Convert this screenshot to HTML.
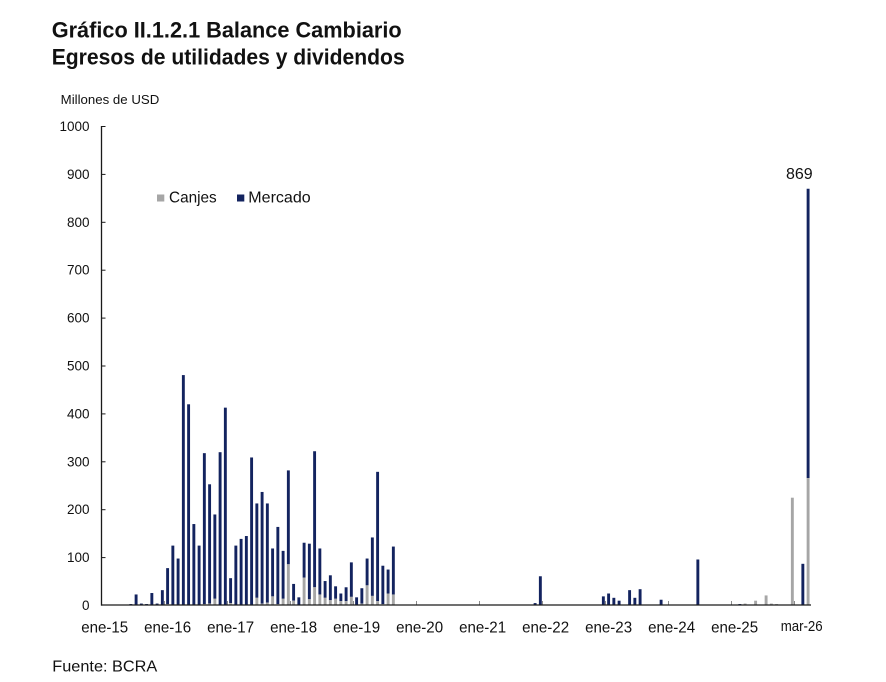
<!DOCTYPE html>
<html>
<head>
<meta charset="utf-8">
<style>
  html,body{margin:0;padding:0;background:#fff;}
  svg{display:block;}
  text{font-family:"Liberation Sans",Arial,sans-serif;fill:#111;}
</style>
</head>
<body>
<svg width="886" height="682" viewBox="0 0 886 682" xmlns="http://www.w3.org/2000/svg">
  <text x="51.7" y="37.3" font-size="22" font-weight="bold" textLength="350" lengthAdjust="spacingAndGlyphs">Gráfico II.1.2.1 Balance Cambiario</text>
  <text x="51.7" y="64.5" font-size="22" font-weight="bold" textLength="353" lengthAdjust="spacingAndGlyphs">Egresos de utilidades y dividendos</text>
  <text x="60.7" y="104" font-size="12.5" textLength="98.6" lengthAdjust="spacingAndGlyphs">Millones de USD</text>

  <rect x="157" y="194.5" width="7.3" height="7" fill="#a6a6a6"/>
  <text x="169" y="202.7" font-size="16" textLength="47.7" lengthAdjust="spacingAndGlyphs">Canjes</text>
  <rect x="237" y="194.5" width="7.3" height="7" fill="#13235f"/>
  <text x="248.3" y="202.7" font-size="16" textLength="62.4" lengthAdjust="spacingAndGlyphs">Mercado</text>

  <g font-size="13.5" text-anchor="end">
    <text x="89.5" y="131">1000</text>
    <text x="89.5" y="178.9">900</text>
    <text x="89.5" y="226.8">800</text>
    <text x="89.5" y="274.7">700</text>
    <text x="89.5" y="322.6">600</text>
    <text x="89.5" y="370.5">500</text>
    <text x="89.5" y="418.4">400</text>
    <text x="89.5" y="466.3">300</text>
    <text x="89.5" y="514.2">200</text>
    <text x="89.5" y="562.1">100</text>
    <text x="89.5" y="610">0</text>
  </g>

  <g transform="translate(-0.1,605) scale(1,-0.479)">
    <g fill="#13235f">
      <rect x="129.5" y="0" width="2.9" height="2"/>
      <rect x="134.75" y="0" width="2.9" height="22"/>
      <rect x="140.0" y="0" width="2.9" height="3"/>
      <rect x="145.25" y="0" width="2.9" height="2"/>
      <rect x="150.5" y="0" width="2.9" height="25"/>
      <rect x="155.75" y="0" width="2.9" height="3"/>
      <rect x="161.0" y="0" width="2.9" height="31"/>
      <rect x="166.25" y="2" width="2.9" height="75"/>
      <rect x="171.5" y="0" width="2.9" height="124"/>
      <rect x="176.75" y="0" width="2.9" height="97"/>
      <rect x="182.0" y="0" width="2.9" height="480"/>
      <rect x="187.25" y="0" width="2.9" height="419"/>
      <rect x="192.5" y="0" width="2.9" height="169"/>
      <rect x="197.75" y="0" width="2.9" height="124"/>
      <rect x="203.0" y="2" width="2.9" height="315"/>
      <rect x="208.25" y="3" width="2.9" height="249"/>
      <rect x="213.5" y="13" width="2.9" height="176"/>
      <rect x="218.75" y="0" width="2.9" height="319"/>
      <rect x="224.0" y="0" width="2.9" height="412"/>
      <rect x="229.25" y="4" width="2.9" height="52"/>
      <rect x="234.5" y="0" width="2.9" height="124"/>
      <rect x="239.75" y="0" width="2.9" height="138"/>
      <rect x="245.0" y="0" width="2.9" height="144"/>
      <rect x="250.25" y="0" width="2.9" height="308"/>
      <rect x="255.5" y="15" width="2.9" height="197"/>
      <rect x="260.75" y="3" width="2.9" height="233"/>
      <rect x="266.0" y="5" width="2.9" height="207"/>
      <rect x="271.25" y="18" width="2.9" height="100"/>
      <rect x="276.5" y="2" width="2.9" height="161"/>
      <rect x="281.75" y="13" width="2.9" height="100"/>
      <rect x="287.0" y="85" width="2.9" height="196"/>
      <rect x="292.25" y="9" width="2.9" height="35"/>
      <rect x="297.5" y="0" width="2.9" height="16"/>
      <rect x="302.75" y="57" width="2.9" height="73"/>
      <rect x="308.0" y="12" width="2.9" height="116"/>
      <rect x="313.25" y="37" width="2.9" height="284"/>
      <rect x="318.5" y="22" width="2.9" height="96"/>
      <rect x="323.75" y="15" width="2.9" height="35"/>
      <rect x="329.0" y="10" width="2.9" height="52"/>
      <rect x="334.25" y="13" width="2.9" height="26"/>
      <rect x="339.5" y="8" width="2.9" height="16"/>
      <rect x="344.75" y="8" width="2.9" height="29"/>
      <rect x="350.0" y="17" width="2.9" height="72"/>
      <rect x="355.25" y="0" width="2.9" height="16"/>
      <rect x="360.5" y="3" width="2.9" height="32"/>
      <rect x="365.75" y="41" width="2.9" height="56"/>
      <rect x="371.0" y="19" width="2.9" height="122"/>
      <rect x="376.25" y="8" width="2.9" height="270"/>
      <rect x="381.5" y="2" width="2.9" height="80"/>
      <rect x="386.75" y="24" width="2.9" height="50"/>
      <rect x="392.0" y="22" width="2.9" height="100"/>
      <rect x="533.75" y="0" width="2.9" height="4"/>
      <rect x="539.0" y="0" width="2.9" height="60"/>
      <rect x="602.0" y="0" width="2.9" height="18"/>
      <rect x="607.25" y="0" width="2.9" height="24"/>
      <rect x="612.5" y="0" width="2.9" height="15"/>
      <rect x="617.75" y="0" width="2.9" height="9"/>
      <rect x="628.25" y="0" width="2.9" height="31"/>
      <rect x="633.5" y="0" width="2.9" height="15"/>
      <rect x="638.75" y="0" width="2.9" height="33"/>
      <rect x="659.75" y="0" width="2.9" height="11"/>
      <rect x="696.5" y="0" width="2.9" height="95"/>
      <rect x="738.5" y="0" width="2.9" height="2"/>
      <rect x="801.5" y="0" width="2.9" height="86"/>
      <rect x="806.75" y="265" width="2.9" height="604"/>
    </g>
    <g fill="#a6a6a6">
      <rect x="166.25" y="0" width="2.9" height="2"/>
      <rect x="203.0" y="0" width="2.9" height="2"/>
      <rect x="208.25" y="0" width="2.9" height="3"/>
      <rect x="213.5" y="0" width="2.9" height="13"/>
      <rect x="229.25" y="0" width="2.9" height="4"/>
      <rect x="255.5" y="0" width="2.9" height="15"/>
      <rect x="260.75" y="0" width="2.9" height="3"/>
      <rect x="266.0" y="0" width="2.9" height="5"/>
      <rect x="271.25" y="0" width="2.9" height="18"/>
      <rect x="276.5" y="0" width="2.9" height="2"/>
      <rect x="281.75" y="0" width="2.9" height="13"/>
      <rect x="287.0" y="0" width="2.9" height="85"/>
      <rect x="292.25" y="0" width="2.9" height="9"/>
      <rect x="302.75" y="0" width="2.9" height="57"/>
      <rect x="308.0" y="0" width="2.9" height="12"/>
      <rect x="313.25" y="0" width="2.9" height="37"/>
      <rect x="318.5" y="0" width="2.9" height="22"/>
      <rect x="323.75" y="0" width="2.9" height="15"/>
      <rect x="329.0" y="0" width="2.9" height="10"/>
      <rect x="334.25" y="0" width="2.9" height="13"/>
      <rect x="339.5" y="0" width="2.9" height="8"/>
      <rect x="344.75" y="0" width="2.9" height="8"/>
      <rect x="350.0" y="0" width="2.9" height="17"/>
      <rect x="360.5" y="0" width="2.9" height="3"/>
      <rect x="365.75" y="0" width="2.9" height="41"/>
      <rect x="371.0" y="0" width="2.9" height="19"/>
      <rect x="376.25" y="0" width="2.9" height="8"/>
      <rect x="381.5" y="0" width="2.9" height="2"/>
      <rect x="386.75" y="0" width="2.9" height="24"/>
      <rect x="392.0" y="0" width="2.9" height="22"/>
      <rect x="743.75" y="0" width="2.9" height="3"/>
      <rect x="754.25" y="0" width="2.9" height="9"/>
      <rect x="764.75" y="0" width="2.9" height="20"/>
      <rect x="770.0" y="0" width="2.9" height="3"/>
      <rect x="775.25" y="0" width="2.9" height="2"/>
      <rect x="791.0" y="0" width="2.9" height="224"/>
      <rect x="806.75" y="0" width="2.9" height="265"/>
    </g>
  </g>

  <g stroke="#8a8a8a" stroke-width="1">
    <line x1="164.5" y1="601" x2="164.5" y2="605"/>
    <line x1="227.5" y1="601" x2="227.5" y2="605"/>
    <line x1="290.5" y1="601" x2="290.5" y2="605"/>
    <line x1="353.5" y1="601" x2="353.5" y2="605"/>
    <line x1="416.5" y1="601" x2="416.5" y2="605"/>
    <line x1="479.5" y1="601" x2="479.5" y2="605"/>
    <line x1="542.5" y1="601" x2="542.5" y2="605"/>
    <line x1="605.5" y1="601" x2="605.5" y2="605"/>
    <line x1="668.5" y1="601" x2="668.5" y2="605"/>
    <line x1="731.5" y1="601" x2="731.5" y2="605"/>
    <line x1="794.5" y1="601" x2="794.5" y2="605"/>
  </g>

  <g stroke="#1a1a1a" stroke-width="1.3" fill="none">
    <line x1="101.5" y1="126" x2="101.5" y2="605.6"/>
    <line x1="101" y1="605" x2="811" y2="605"/>
  </g>
  <g stroke="#1a1a1a" stroke-width="1">
    <line x1="101.5" y1="126.5" x2="105.5" y2="126.5"/>
    <line x1="101.5" y1="174.4" x2="105.5" y2="174.4"/>
    <line x1="101.5" y1="222.3" x2="105.5" y2="222.3"/>
    <line x1="101.5" y1="270.2" x2="105.5" y2="270.2"/>
    <line x1="101.5" y1="318.1" x2="105.5" y2="318.1"/>
    <line x1="101.5" y1="366" x2="105.5" y2="366"/>
    <line x1="101.5" y1="413.9" x2="105.5" y2="413.9"/>
    <line x1="101.5" y1="461.8" x2="105.5" y2="461.8"/>
    <line x1="101.5" y1="509.7" x2="105.5" y2="509.7"/>
    <line x1="101.5" y1="557.6" x2="105.5" y2="557.6"/>
  </g>

  <g font-size="16" text-anchor="middle">
    <text x="104.7" y="632.3" textLength="47" lengthAdjust="spacingAndGlyphs">ene-15</text>
    <text x="167.6" y="632.3" textLength="47" lengthAdjust="spacingAndGlyphs">ene-16</text>
    <text x="230.6" y="632.3" textLength="47" lengthAdjust="spacingAndGlyphs">ene-17</text>
    <text x="293.6" y="632.3" textLength="47" lengthAdjust="spacingAndGlyphs">ene-18</text>
    <text x="356.6" y="632.3" textLength="47" lengthAdjust="spacingAndGlyphs">ene-19</text>
    <text x="419.6" y="632.3" textLength="47" lengthAdjust="spacingAndGlyphs">ene-20</text>
    <text x="482.6" y="632.3" textLength="47" lengthAdjust="spacingAndGlyphs">ene-21</text>
    <text x="545.6" y="632.3" textLength="47" lengthAdjust="spacingAndGlyphs">ene-22</text>
    <text x="608.6" y="632.3" textLength="47" lengthAdjust="spacingAndGlyphs">ene-23</text>
    <text x="671.6" y="632.3" textLength="47" lengthAdjust="spacingAndGlyphs">ene-24</text>
    <text x="734.6" y="632.3" textLength="47" lengthAdjust="spacingAndGlyphs">ene-25</text>
    <text x="801.7" y="631" font-size="14.5" textLength="42" lengthAdjust="spacingAndGlyphs">mar-26</text>
  </g>

  <text x="799.3" y="179" font-size="16" text-anchor="middle" textLength="26.7" lengthAdjust="spacingAndGlyphs">869</text>

  <text x="52.3" y="671.7" font-size="16" textLength="105" lengthAdjust="spacingAndGlyphs">Fuente: BCRA</text>
</svg>
</body>
</html>
